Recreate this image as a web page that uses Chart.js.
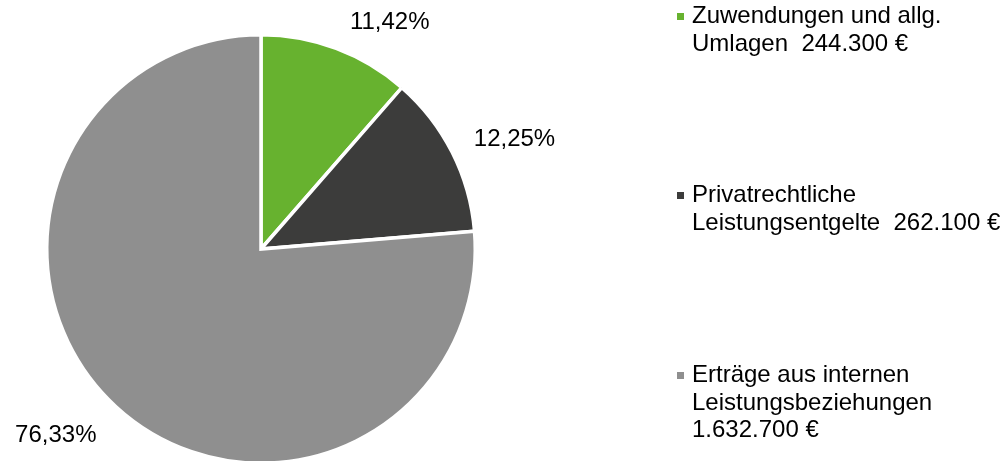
<!DOCTYPE html>
<html><head><meta charset="utf-8">
<script src="https://cdn.jsdelivr.net/npm/chart.js@4.4.0/dist/chart.umd.min.js"></script>
<style>html,body{margin:0;padding:0;background:#fff;overflow:hidden;}#wrap{width:1007px;height:461px;position:relative;overflow:hidden;}</style>
</head><body><div id="wrap"><canvas id="c" width="1007" height="470"></canvas></div>
<script>
const categories = ["Zuwendungen und allg. Umlagen", "Privatrechtliche Leistungsentgelte", "Erträge aus internen Leistungsbeziehungen"];
const amounts = [244300, 262100, 1632700];
const percentLabels = ["11,42%", "12,25%", "76,33%"];
const legendLines = [
  ["Zuwendungen und allg.", "Umlagen  244.300 €"],
  ["Privatrechtliche", "Leistungsentgelte  262.100 €"],
  ["Erträge aus internen", "Leistungsbeziehungen", "1.632.700 €"]
];
const colors = ["#67B22F", "#3C3C3B", "#8F8F8F"];

const FONT = '24px "Liberation Sans", Arial, sans-serif';
const labelOffsets = [[128, -219], [252, -102], [-204, 192]]; // baseline-centre relative to pie centre, at radius 213
const legendPos = [{x: 677, y: 23}, {x: 677, y: 202}, {x: 677, y: 382}];
const lineH = 27.5;

const overlay = {
  id: 'overlay',
  afterDraw(chart) {
    const ctx = chart.ctx;
    const meta = chart.getDatasetMeta(0);
    ctx.save();
    ctx.font = FONT;
    ctx.fillStyle = '#000';
    ctx.textBaseline = 'alphabetic';
    ctx.textAlign = 'center';
    meta.data.forEach((arc, i) => {
      const s = arc.outerRadius / 213;
      ctx.fillText(percentLabels[i], arc.x + labelOffsets[i][0] * s, arc.y + labelOffsets[i][1] * s);
    });
    ctx.textAlign = 'left';
    legendLines.forEach((lines, i) => {
      const p = legendPos[i];
      ctx.fillStyle = colors[i];
      ctx.fillRect(p.x, p.y - 10, 7, 7);
      ctx.fillStyle = '#000';
      lines.forEach((t, j) => ctx.fillText(t, p.x + 15, p.y + j * lineH));
    });
    ctx.restore();
  }
};

new Chart(document.getElementById('c'), {
  type: 'pie',
  data: {
    labels: categories,
    datasets: [{
      data: amounts,
      backgroundColor: colors,
      borderColor: '#ffffff',
      borderWidth: 3.5,
      borderJoinStyle: 'miter'
    }]
  },
  options: {
    responsive: false,
    animation: false,
    layout: { padding: { left: 45, top: 33, right: 530, bottom: 5 } },
    plugins: { legend: { display: false }, tooltip: { enabled: false } }
  },
  plugins: [overlay]
});
</script></body></html>
